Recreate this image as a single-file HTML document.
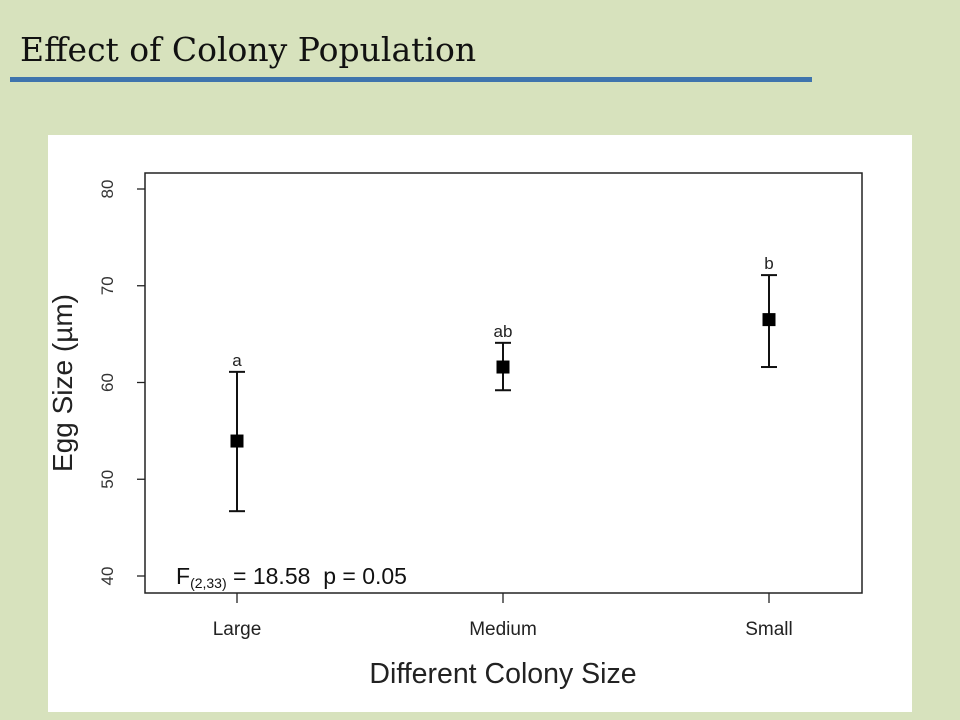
<!DOCTYPE html>
<html><head><meta charset="utf-8"><style>
body{margin:0;width:960px;height:720px;background:#d7e2bd;overflow:hidden;position:relative;font-family:"Liberation Sans",sans-serif}
#title{position:absolute;left:20px;top:30px;font-family:"DejaVu Serif","Liberation Serif",serif;font-size:33px;color:#111;margin:0;font-weight:normal;white-space:nowrap}
#rule{position:absolute;left:10px;top:77px;width:802px;height:5px;background:#3f74ad}
#panel{position:absolute;left:48px;top:135px;width:864px;height:577px;background:#fff}
</style></head><body>
<h1 id="title">Effect of Colony Population</h1>
<div id="rule"></div>
<div id="panel"></div>
<svg id="chart" width="960" height="720" style="position:absolute;left:0;top:0"></svg>
<script>
const categories=["Large","Medium","Small"];
const means=[53.95,61.6,66.5];
const uppers=[61.1,64.1,71.1];
const lowers=[46.7,59.2,61.6];
const letters=["a","ab","b"];
const yTicks=[40,50,60,70,80];
const NS="http://www.w3.org/2000/svg";
const svg=document.getElementById("chart");
const L=145,R=862,T=173,B=593;
const y=v=>576+(v-40)*(189-576)/40;
const x=i=>237+i*266;
function mk(t,a,txt){const e=document.createElementNS(NS,t);for(const k in a)e.setAttribute(k,a[k]);if(txt!=null)e.textContent=txt;svg.appendChild(e);return e;}
let e=mk("rect",{x:L,y:T,width:R-L,height:B-T,fill:"none",stroke:"#222","stroke-width":1.5});


yTicks.forEach(v=>{
 let t=mk("line",{x1:L-8,x2:L,y1:y(v),y2:y(v),stroke:"#222","stroke-width":1.3});
 
 
 let l=mk("text",{x:0,y:0,transform:`translate(${L-32},${y(v)}) rotate(-90)`,"text-anchor":"middle","font-size":17,fill:"#333"},v);
 
 
});
categories.forEach((c,i)=>{
 let t=mk("line",{x1:x(i),x2:x(i),y1:B,y2:B+10,stroke:"#222","stroke-width":1.3});
 
 
 let l=mk("text",{x:x(i),y:635,"text-anchor":"middle","font-size":19,fill:"#222"},c);
 
 
 let eb=mk("line",{x1:x(i),x2:x(i),y1:y(uppers[i]),y2:y(lowers[i]),stroke:"#111","stroke-width":2});
 
 
 [uppers[i],lowers[i]].forEach(v=>{
  let cap=mk("line",{x1:x(i)-8,x2:x(i)+8,y1:y(v),y2:y(v),stroke:"#111","stroke-width":2});
  
  
 });
 let p=mk("rect",{x:x(i)-6.5,y:y(means[i])-6.5,width:13,height:13,fill:"#000"});
 
 
 let g=mk("text",{x:x(i),y:y(uppers[i])-6,"text-anchor":"middle","font-size":17,fill:"#222"},letters[i]);
 
 
});
let yt=mk("text",{x:0,y:0,transform:"translate(72,383) rotate(-90)","text-anchor":"middle","font-size":28,fill:"#222"},"Egg Size (µm)");


let xt=mk("text",{x:503,y:683,"text-anchor":"middle","font-size":28.5,fill:"#222"},"Different Colony Size");


let st=mk("text",{x:176,y:584,"font-size":23,fill:"#111"});


st.innerHTML='F<tspan font-size="14" dy="4">(2,33)</tspan><tspan dy="-4"> = 18.58  p = 0.05</tspan>';
st.setAttribute('xml:space','preserve');st.style.whiteSpace='pre';
</script>
</body></html>
